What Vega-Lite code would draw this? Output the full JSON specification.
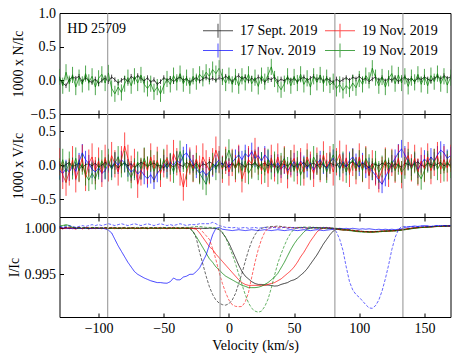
{
"$schema": "https://vega.github.io/schema/vega-lite/v6.json",
"background": "white",
"padding": {"left": 6.5, "top": 5, "right": 5, "bottom": 5},
"config": {
 "font": "Liberation Serif",
 "view": {"stroke": "black", "strokeWidth": 1},
 "axis": {"domain": false, "grid": false, "ticks": true, "tickColor": "black", "tickWidth": 1, "tickSize": -4, "labelFont": "Liberation Serif", "titleFont": "Liberation Serif", "labelFontSize": 14, "titleFontSize": 14, "labelColor": "black", "titleColor": "black", "titleFontWeight": "normal", "labelPadding": 8, "labelOverlap": false, "labelBound": false, "labelFlush": false}
},
"datasets": {
 "meta": [
  {"key":"nS","date":"S17","e":0.035},{"key":"nG","date":"N19b","e":0.12},
  {"key":"vS","date":"S17","e":0.04},{"key":"vB","date":"N17","e":0.13},{"key":"vR","date":"N19a","e":0.2},{"key":"vG","date":"N19b","e":0.16},
  {"key":"iK","date":"S17","kind":"solid"},{"key":"iR","date":"N19a","kind":"solid"},{"key":"iG","date":"N19b","kind":"solid"},{"key":"iB","date":"N17","kind":"solid"},
  {"key":"dK","date":"S17","kind":"dashed"},{"key":"dR","date":"N19a","kind":"dashed"},{"key":"dG","date":"N19b","kind":"dashed"},{"key":"dB","date":"N17","kind":"dashed"}
 ],
 "vlines": [{"v":-93},{"v":-6.8},{"v":81.3},{"v":133.5}],
 "star": [{"name":"HD 25709"}],
 "prof": [
{"v":-130,"nS":0.02,"nG":0.05,"vS":0.02,"vB":-0.08,"vR":0.05,"vG":-0.06,"iK":1.0,"iR":1.00005,"iG":1.0002,"iB":1.0001,"dK":1.0001,"dR":1.0,"dG":1.0002,"dB":1.0002},
{"v":-127.5,"nS":-0.04,"nG":-0.08,"vS":-0.03,"vB":-0.12,"vR":-0.15,"vG":0.08,"iK":0.99997,"iR":0.99993,"iG":1.0003,"iB":1.00005,"dK":1.0,"dR":1.0001,"dG":1.0003,"dB":1.0001},
{"v":-125,"nS":-0.08,"nG":0.12,"vS":0.01,"vB":-0.05,"vR":-0.25,"vG":-0.1,"iK":1.00003,"iR":1.0001,"iG":1.0004,"iB":0.99998,"dK":1.0001,"dR":0.99995,"dG":1.0003,"dB":1.0002},
{"v":-122.5,"nS":0.01,"nG":-0.05,"vS":0.04,"vB":-0.1,"vR":-0.1,"vG":0.04,"iK":0.99998,"iR":0.99996,"iG":1.0003,"iB":1.00003,"dK":1.00005,"dR":1.0001,"dG":1.0002,"dB":1.0003},
{"v":-120,"nS":0.05,"nG":0.08,"vS":-0.02,"vB":-0.02,"vR":0.08,"vG":-0.05,"iK":1.00002,"iR":1.00006,"iG":1.0001,"iB":0.99996,"dK":1.0001,"dR":1.0,"dG":1.0001,"dB":1.0002},
{"v":-117.5,"nS":0.03,"nG":-0.1,"vS":0.0,"vB":-0.09,"vR":-0.2,"vG":0.1,"iK":0.99999,"iR":0.9999,"iG":1.00005,"iB":1.0,"dK":1.0,"dR":1.00008,"dG":1.0001,"dB":1.0001},
{"v":-115,"nS":0.06,"nG":0.04,"vS":0.03,"vB":0.05,"vR":-0.05,"vG":-0.08,"iK":1.00001,"iR":1.0001,"iG":1.0,"iB":1.00004,"dK":1.0001,"dR":1.0001,"dG":1.00005,"dB":1.0002},
{"v":-112.5,"nS":-0.02,"nG":-0.06,"vS":-0.04,"vB":0.18,"vR":0.1,"vG":0.02,"iK":0.99997,"iR":0.99995,"iG":0.99998,"iB":0.99998,"dK":1.00005,"dR":0.99998,"dG":1.0001,"dB":1.0003},
{"v":-110,"nS":0.04,"nG":0.1,"vS":0.01,"vB":0.08,"vR":-0.18,"vG":-0.14,"iK":1.00003,"iR":1.00008,"iG":1.00003,"iB":1.00002,"dK":1.0001,"dR":1.00005,"dG":1.0,"dB":1.0002},
{"v":-107.5,"nS":-0.01,"nG":-0.03,"vS":0.02,"vB":0.02,"vR":0.03,"vG":-0.22,"iK":1.0,"iR":0.99992,"iG":0.99997,"iB":1.0,"dK":1.0,"dR":1.0001,"dG":1.00005,"dB":1.0003},
{"v":-105,"nS":-0.03,"nG":0.06,"vS":-0.01,"vB":-0.06,"vR":0.12,"vG":-0.12,"iK":0.99998,"iR":1.0001,"iG":1.00002,"iB":0.99997,"dK":1.00005,"dR":1.0,"dG":1.0001,"dB":1.0004},
{"v":-102.5,"nS":0.02,"nG":-0.1,"vS":0.03,"vB":-0.1,"vR":-0.08,"vG":-0.2,"iK":1.00002,"iR":0.99996,"iG":1.0,"iB":1.00003,"dK":1.0001,"dR":1.00006,"dG":1.00005,"dB":1.0003},
{"v":-100,"nS":-0.05,"nG":0.03,"vS":-0.03,"vB":-0.04,"vR":0.06,"vG":-0.05,"iK":1.0,"iR":1.00004,"iG":0.99998,"iB":1.0,"dK":1.0,"dR":1.0,"dG":1.0001,"dB":1.0004},
{"v":-97.5,"nS":0.0,"nG":0.09,"vS":0.0,"vB":-0.12,"vR":-0.12,"vG":0.06,"iK":0.99998,"iR":0.99995,"iG":1.00002,"iB":1.00002,"dK":1.00005,"dR":1.00005,"dG":1.0,"dB":1.0003},
{"v":-95,"nS":0.03,"nG":-0.04,"vS":0.04,"vB":-0.08,"vR":0.1,"vG":-0.04,"iK":1.00001,"iR":1.00006,"iG":1.0,"iB":0.99995,"dK":1.0001,"dR":1.0,"dG":1.00005,"dB":1.0004},
{"v":-92.5,"nS":-0.02,"nG":0.11,"vS":0.01,"vB":0.02,"vR":-0.04,"vG":0.08,"iK":0.99999,"iR":0.99998,"iG":0.99997,"iB":0.9998,"dK":1.0,"dR":1.00005,"dG":1.0001,"dB":1.0005},
{"v":-90,"nS":0.05,"nG":-0.12,"vS":-0.02,"vB":-0.05,"vR":0.14,"vG":-0.06,"iK":1.00002,"iR":1.00004,"iG":1.00002,"iB":0.9995,"dK":1.00005,"dR":1.0001,"dG":1.0,"dB":1.0004},
{"v":-87.5,"nS":0.01,"nG":-0.2,"vS":0.02,"vB":0.06,"vR":0.02,"vG":0.03,"iK":1.0,"iR":0.99996,"iG":1.0,"iB":0.9988,"dK":1.0001,"dR":1.0,"dG":1.00005,"dB":1.0003},
{"v":-85,"nS":-0.04,"nG":-0.1,"vS":-0.04,"vB":0.0,"vR":-0.1,"vG":0.12,"iK":0.99997,"iR":1.00005,"iG":0.99998,"iB":0.9981,"dK":1.0,"dR":1.00005,"dG":1.0001,"dB":1.0004},
{"v":-82.5,"nS":0.0,"nG":-0.18,"vS":0.01,"vB":0.08,"vR":0.08,"vG":-0.02,"iK":1.00002,"iR":0.99995,"iG":1.00002,"iB":0.9975,"dK":1.00005,"dR":1.0001,"dG":1.0,"dB":1.0005},
{"v":-80,"nS":0.03,"nG":-0.05,"vS":0.03,"vB":0.03,"vR":0.28,"vG":0.05,"iK":1.0,"iR":1.00003,"iG":1.0,"iB":0.9969,"dK":1.0001,"dR":1.0,"dG":1.00005,"dB":1.0004},
{"v":-77.5,"nS":-0.02,"nG":0.04,"vS":-0.01,"vB":-0.04,"vR":0.1,"vG":-0.08,"iK":0.99998,"iR":0.99997,"iG":0.99997,"iB":0.9963,"dK":1.0,"dR":1.00005,"dG":1.0001,"dB":1.0003},
{"v":-75,"nS":0.06,"nG":-0.08,"vS":0.02,"vB":-0.1,"vR":-0.06,"vG":-0.18,"iK":1.00001,"iR":1.00006,"iG":1.00002,"iB":0.9958,"dK":1.00005,"dR":1.0,"dG":1.0,"dB":1.0004},
{"v":-72.5,"nS":0.02,"nG":0.06,"vS":-0.03,"vB":-0.06,"vR":0.04,"vG":-0.06,"iK":1.0,"iR":0.99995,"iG":1.0,"iB":0.9953,"dK":1.0001,"dR":1.0001,"dG":1.00005,"dB":1.0005},
{"v":-70,"nS":0.07,"nG":-0.04,"vS":0.0,"vB":-0.13,"vR":-0.28,"vG":0.04,"iK":0.99998,"iR":1.00003,"iG":0.99998,"iB":0.995,"dK":1.0,"dR":1.0,"dG":1.0001,"dB":1.0004},
{"v":-67.5,"nS":0.03,"nG":0.08,"vS":0.04,"vB":-0.08,"vR":-0.1,"vG":-0.05,"iK":1.00002,"iR":0.99996,"iG":1.00002,"iB":0.9948,"dK":1.00005,"dR":1.00005,"dG":1.0,"dB":1.0003},
{"v":-65,"nS":-0.01,"nG":-0.06,"vS":0.02,"vB":-0.15,"vR":0.05,"vG":0.1,"iK":1.0,"iR":1.00005,"iG":1.0,"iB":0.9946,"dK":1.0001,"dR":1.0,"dG":1.00005,"dB":1.0004},
{"v":-62.5,"nS":0.04,"nG":-0.12,"vS":-0.02,"vB":-0.2,"vR":-0.08,"vG":-0.03,"iK":0.99998,"iR":0.99995,"iG":0.99998,"iB":0.99445,"dK":1.0,"dR":1.0001,"dG":1.0001,"dB":1.0005},
{"v":-60,"nS":-0.03,"nG":-0.05,"vS":0.01,"vB":-0.14,"vR":0.12,"vG":0.06,"iK":1.00002,"iR":1.00004,"iG":1.00002,"iB":0.9943,"dK":1.00005,"dR":1.0,"dG":1.0,"dB":1.0004},
{"v":-57.5,"nS":0.01,"nG":-0.17,"vS":0.03,"vB":-0.22,"vR":-0.05,"vG":-0.09,"iK":1.0,"iR":0.99997,"iG":1.0,"iB":0.9942,"dK":1.0001,"dR":1.00005,"dG":1.00005,"dB":1.0003},
{"v":-55,"nS":-0.06,"nG":-0.1,"vS":-0.01,"vB":-0.12,"vR":0.07,"vG":0.04,"iK":0.99999,"iR":1.00005,"iG":0.99998,"iB":0.9941,"dK":1.0,"dR":1.0,"dG":1.0001,"dB":1.0004},
{"v":-52.5,"nS":-0.02,"nG":-0.2,"vS":0.0,"vB":-0.06,"vR":-0.12,"vG":-0.06,"iK":1.00002,"iR":0.99996,"iG":1.00002,"iB":0.9941,"dK":1.00005,"dR":1.0001,"dG":1.0,"dB":1.0005},
{"v":-50,"nS":0.04,"nG":-0.08,"vS":-0.04,"vB":0.02,"vR":0.02,"vG":0.08,"iK":1.0,"iR":1.00003,"iG":1.0,"iB":0.99405,"dK":1.0001,"dR":1.0,"dG":1.00005,"dB":1.0004},
{"v":-47.5,"nS":0.0,"nG":0.02,"vS":0.02,"vB":-0.05,"vR":0.1,"vG":-0.04,"iK":0.99998,"iR":0.99995,"iG":1.00003,"iB":0.99403,"dK":1.0,"dR":1.00005,"dG":1.0001,"dB":1.0003},
{"v":-45,"nS":0.03,"nG":-0.06,"vS":0.01,"vB":0.04,"vR":-0.04,"vG":0.02,"iK":1.00002,"iR":1.00005,"iG":1.0,"iB":0.9942,"dK":1.00005,"dR":1.0,"dG":1.0,"dB":1.0004},
{"v":-42.5,"nS":-0.02,"nG":0.07,"vS":-0.03,"vB":0.0,"vR":0.17,"vG":-0.1,"iK":1.0,"iR":0.99997,"iG":0.99998,"iB":0.9946,"dK":1.0001,"dR":1.0001,"dG":1.00005,"dB":1.0003},
{"v":-40,"nS":0.02,"nG":-0.03,"vS":0.03,"vB":0.07,"vR":0.05,"vG":0.05,"iK":0.99999,"iR":1.00004,"iG":1.00002,"iB":0.9944,"dK":1.0,"dR":1.0,"dG":1.0001,"dB":1.0004},
{"v":-37.5,"nS":0.05,"nG":0.1,"vS":0.0,"vB":0.03,"vR":-0.1,"vG":0.2,"iK":1.00001,"iR":0.99996,"iG":1.0,"iB":0.9944,"dK":1.00005,"dR":1.00005,"dG":1.0,"dB":1.0005},
{"v":-35,"nS":0.0,"nG":-0.05,"vS":-0.02,"vB":0.14,"vR":-0.32,"vG":0.06,"iK":1.0,"iR":1.00005,"iG":0.99998,"iB":0.9947,"dK":1.0001,"dR":1.0,"dG":1.00005,"dB":1.0004},
{"v":-32.5,"nS":0.03,"nG":0.04,"vS":0.04,"vB":0.18,"vR":-0.12,"vG":-0.05,"iK":0.99998,"iR":0.99997,"iG":1.00003,"iB":0.9948,"dK":1.0,"dR":1.00005,"dG":1.0001,"dB":1.0003},
{"v":-30,"nS":-0.03,"nG":-0.08,"vS":0.01,"vB":0.1,"vR":0.06,"vG":0.04,"iK":1.00002,"iR":1.00003,"iG":1.0,"iB":0.995,"dK":1.0,"dR":1.0,"dG":1.0001,"dB":1.0004},
{"v":-27.5,"nS":0.01,"nG":0.06,"vS":-0.01,"vB":0.02,"vR":-0.05,"vG":-0.08,"iK":1.0,"iR":0.99998,"iG":0.9996,"iB":0.995,"dK":0.9997,"dR":1.00005,"dG":1.00015,"dB":1.0004},
{"v":-25,"nS":0.04,"nG":-0.02,"vS":0.03,"vB":-0.06,"vR":0.09,"vG":0.02,"iK":0.99999,"iR":0.9999,"iG":0.9991,"iB":0.9953,"dK":0.9989,"dR":1.0,"dG":1.0002,"dB":1.0004},
{"v":-22.5,"nS":-0.01,"nG":0.09,"vS":-0.03,"vB":-0.12,"vR":-0.06,"vG":-0.12,"iK":1.00001,"iR":0.9995,"iG":0.9985,"iB":0.9957,"dK":0.9974,"dR":1.0,"dG":1.0002,"dB":1.0005},
{"v":-20,"nS":0.02,"nG":0.03,"vS":0.02,"vB":-0.08,"vR":0.12,"vG":-0.2,"iK":1.0,"iR":0.999,"iG":0.9979,"iB":0.9964,"dK":0.9961,"dR":0.9996,"dG":1.00015,"dB":1.0005},
{"v":-17.5,"nS":0.05,"nG":0.12,"vS":0.0,"vB":-0.15,"vR":0.02,"vG":-0.28,"iK":0.99998,"iR":0.9985,"iG":0.9973,"iB":0.9971,"dK":0.9948,"dR":0.9992,"dG":1.0001,"dB":1.0005},
{"v":-15,"nS":0.01,"nG":0.06,"vS":0.05,"vB":-0.1,"vR":-0.08,"vG":-0.1,"iK":1.00002,"iR":0.998,"iG":0.9967,"iB":0.9982,"dK":0.99365,"dR":0.9988,"dG":1.0001,"dB":1.0005},
{"v":-12.5,"nS":0.03,"nG":0.16,"vS":0.02,"vB":-0.04,"vR":0.05,"vG":0.02,"iK":1.0,"iR":0.9977,"iG":0.9963,"iB":0.9993,"dK":0.9928,"dR":0.9978,"dG":1.0001,"dB":1.00065},
{"v":-10,"nS":0.0,"nG":0.1,"vS":-0.02,"vB":0.02,"vR":0.22,"vG":-0.06,"iK":0.99998,"iR":0.9972,"iG":0.9958,"iB":1.0,"dK":0.9922,"dR":0.9966,"dG":1.00005,"dB":1.0005},
{"v":-7.5,"nS":0.04,"nG":0.18,"vS":0.01,"vB":0.08,"vR":0.08,"vG":0.05,"iK":0.99985,"iR":0.9968,"iG":0.9955,"iB":1.0001,"dK":0.99187,"dR":0.9952,"dG":0.99995,"dB":1.0003},
{"v":-5,"nS":0.02,"nG":0.05,"vS":0.03,"vB":0.0,"vR":-0.06,"vG":-0.04,"iK":0.9995,"iR":0.9964,"iG":0.9951,"iB":0.9999,"dK":0.9917,"dR":0.994,"dG":0.9996,"dB":1.0002},
{"v":-2.5,"nS":0.06,"nG":-0.04,"vS":-0.04,"vB":0.05,"vR":0.07,"vG":0.08,"iK":0.999,"iR":0.996,"iG":0.9948,"iB":0.99985,"dK":0.99165,"dR":0.993,"dG":0.999,"dB":1.0001},
{"v":0,"nS":0.03,"nG":0.07,"vS":0.0,"vB":-0.03,"vR":-0.1,"vG":0.22,"iK":0.9984,"iR":0.9956,"iG":0.9946,"iB":0.9998,"dK":0.9918,"dR":0.9922,"dG":0.9981,"dB":1.0001},
{"v":2.5,"nS":-0.02,"nG":-0.06,"vS":0.02,"vB":0.04,"vR":0.04,"vG":0.06,"iK":0.9976,"iR":0.9952,"iG":0.9944,"iB":0.99975,"dK":0.9922,"dR":0.9917,"dG":0.9972,"dB":1.00005},
{"v":5,"nS":0.04,"nG":0.05,"vS":-0.01,"vB":0.1,"vR":-0.05,"vG":-0.05,"iK":0.9968,"iR":0.9948,"iG":0.9942,"iB":0.9998,"dK":0.9929,"dR":0.99152,"dG":0.9962,"dB":1.0001},
{"v":7.5,"nS":0.07,"nG":-0.08,"vS":0.03,"vB":0.15,"vR":0.1,"vG":0.04,"iK":0.996,"iR":0.9944,"iG":0.994,"iB":0.99985,"dK":0.994,"dR":0.99148,"dG":0.995,"dB":1.0},
{"v":10,"nS":0.02,"nG":0.06,"vS":0.01,"vB":0.08,"vR":-0.2,"vG":-0.08,"iK":0.9953,"iR":0.9941,"iG":0.9938,"iB":0.9998,"dK":0.9951,"dR":0.9915,"dG":0.9939,"dB":1.00005},
{"v":12.5,"nS":0.05,"nG":-0.03,"vS":-0.03,"vB":0.17,"vR":-0.06,"vG":0.06,"iK":0.9948,"iR":0.9939,"iG":0.9937,"iB":0.99975,"dK":0.9964,"dR":0.992,"dG":0.9928,"dB":1.0001},
{"v":15,"nS":-0.01,"nG":0.09,"vS":0.02,"vB":0.12,"vR":0.08,"vG":-0.12,"iK":0.9945,"iR":0.9938,"iG":0.99355,"iB":0.9998,"dK":0.9976,"dR":0.993,"dG":0.9919,"dB":1.0},
{"v":17.5,"nS":0.03,"nG":-0.05,"vS":0.0,"vB":0.2,"vR":0.02,"vG":-0.04,"iK":0.9942,"iR":0.9938,"iG":0.99355,"iB":0.99985,"dK":0.9986,"dR":0.9947,"dG":0.9913,"dB":1.00005},
{"v":20,"nS":0.0,"nG":0.04,"vS":0.04,"vB":0.1,"vR":0.2,"vG":0.05,"iK":0.994,"iR":0.9938,"iG":0.99355,"iB":0.9998,"dK":0.9993,"dR":0.9963,"dG":0.991,"dB":1.0001},
{"v":22.5,"nS":0.05,"nG":-0.09,"vS":-0.02,"vB":0.14,"vR":0.06,"vG":-0.06,"iK":0.9939,"iR":0.9938,"iG":0.9936,"iB":0.99975,"dK":0.9998,"dR":0.9977,"dG":0.99088,"dB":1.0},
{"v":25,"nS":0.02,"nG":0.07,"vS":0.01,"vB":0.06,"vR":-0.08,"vG":0.03,"iK":0.9939,"iR":0.9938,"iG":0.9937,"iB":0.9998,"dK":1.0,"dR":0.9988,"dG":0.991,"dB":1.00005},
{"v":27.5,"nS":-0.03,"nG":-0.02,"vS":0.03,"vB":0.15,"vR":0.05,"vG":-0.1,"iK":0.99385,"iR":0.9938,"iG":0.9939,"iB":0.99985,"dK":1.0001,"dR":0.9996,"dG":0.9915,"dB":1.0001},
{"v":30,"nS":0.03,"nG":0.08,"vS":-0.01,"vB":0.09,"vR":-0.12,"vG":0.08,"iK":0.99383,"iR":0.9939,"iG":0.9941,"iB":0.9998,"dK":1.00015,"dR":1.0,"dG":0.9923,"dB":1.0},
{"v":32.5,"nS":0.01,"nG":0.2,"vS":0.02,"vB":0.02,"vR":0.1,"vG":-0.05,"iK":0.99378,"iR":0.994,"iG":0.9944,"iB":0.99975,"dK":1.0002,"dR":1.0001,"dG":0.9935,"dB":1.00005},
{"v":35,"nS":0.05,"nG":0.02,"vS":0.0,"vB":-0.04,"vR":-0.04,"vG":0.04,"iK":0.99372,"iR":0.9941,"iG":0.9947,"iB":0.9998,"dK":1.0002,"dR":1.00015,"dG":0.9949,"dB":1.0001},
{"v":37.5,"nS":-0.02,"nG":-0.06,"vS":-0.04,"vB":0.03,"vR":0.12,"vG":-0.12,"iK":0.99375,"iR":0.9943,"iG":0.9951,"iB":0.99985,"dK":1.00025,"dR":1.0001,"dG":0.9962,"dB":1.0},
{"v":40,"nS":0.02,"nG":-0.14,"vS":0.02,"vB":-0.06,"vR":-0.06,"vG":0.02,"iK":0.9939,"iR":0.9945,"iG":0.9957,"iB":0.9998,"dK":1.0002,"dR":1.00015,"dG":0.9972,"dB":1.00005},
{"v":42.5,"nS":-0.01,"nG":-0.05,"vS":0.01,"vB":0.0,"vR":0.08,"vG":0.1,"iK":0.994,"iR":0.9948,"iG":0.9963,"iB":0.99975,"dK":1.00015,"dR":1.0001,"dG":0.9981,"dB":1.0001},
{"v":45,"nS":0.04,"nG":0.06,"vS":-0.01,"vB":-0.08,"vR":-0.14,"vG":-0.04,"iK":0.9941,"iR":0.9951,"iG":0.997,"iB":0.9998,"dK":1.0001,"dR":1.00005,"dG":0.9989,"dB":1.0},
{"v":47.5,"nS":0.0,"nG":-0.08,"vS":0.03,"vB":-0.02,"vR":0.02,"vG":0.06,"iK":0.9943,"iR":0.9954,"iG":0.9977,"iB":0.99985,"dK":1.0001,"dR":1.0001,"dG":0.9995,"dB":1.00005},
{"v":50,"nS":0.03,"nG":0.05,"vS":-0.03,"vB":0.05,"vR":0.1,"vG":-0.08,"iK":0.9944,"iR":0.9958,"iG":0.9983,"iB":0.9998,"dK":1.00005,"dR":1.0,"dG":0.9999,"dB":1.0001},
{"v":52.5,"nS":-0.02,"nG":-0.04,"vS":0.02,"vB":-0.03,"vR":-0.08,"vG":0.05,"iK":0.9946,"iR":0.9963,"iG":0.9988,"iB":0.99975,"dK":1.0001,"dR":1.00005,"dG":1.0001,"dB":1.0},
{"v":55,"nS":0.02,"nG":0.09,"vS":0.0,"vB":0.06,"vR":0.05,"vG":-0.14,"iK":0.9949,"iR":0.9969,"iG":0.9992,"iB":0.9998,"dK":1.00005,"dR":1.0001,"dG":1.0001,"dB":1.00005},
{"v":57.5,"nS":0.05,"nG":-0.06,"vS":0.04,"vB":0.01,"vR":-0.1,"vG":-0.04,"iK":0.9952,"iR":0.9974,"iG":0.9996,"iB":0.99985,"dK":1.0001,"dR":1.0,"dG":1.00015,"dB":1.0001},
{"v":60,"nS":0.0,"nG":0.03,"vS":-0.02,"vB":-0.05,"vR":0.12,"vG":0.07,"iK":0.9956,"iR":0.998,"iG":0.9999,"iB":0.9998,"dK":1.0,"dR":1.00005,"dG":1.0001,"dB":1.0},
{"v":62.5,"nS":0.03,"nG":-0.1,"vS":0.01,"vB":0.03,"vR":0.0,"vG":-0.06,"iK":0.9961,"iR":0.9986,"iG":1.0,"iB":0.99975,"dK":1.00005,"dR":1.0001,"dG":1.00015,"dB":1.00005},
{"v":65,"nS":0.06,"nG":0.06,"vS":0.03,"vB":-0.07,"vR":-0.12,"vG":0.12,"iK":0.9966,"iR":0.9991,"iG":1.00005,"iB":0.9998,"dK":1.0001,"dR":1.0,"dG":1.0001,"dB":1.0001},
{"v":67.5,"nS":0.01,"nG":-0.03,"vS":-0.01,"vB":0.02,"vR":0.06,"vG":0.02,"iK":0.9971,"iR":0.9996,"iG":1.0001,"iB":0.99985,"dK":1.00005,"dR":1.00005,"dG":1.0,"dB":1.0},
{"v":70,"nS":0.04,"nG":0.08,"vS":0.02,"vB":0.08,"vR":-0.05,"vG":-0.06,"iK":0.9977,"iR":0.9999,"iG":1.00005,"iB":0.9998,"dK":1.0,"dR":1.0001,"dG":1.00005,"dB":1.00005},
{"v":72.5,"nS":-0.01,"nG":-0.05,"vS":0.0,"vB":0.0,"vR":0.15,"vG":0.05,"iK":0.9983,"iR":1.0,"iG":1.0,"iB":0.99975,"dK":1.00005,"dR":1.00005,"dG":1.0001,"dB":1.0001},
{"v":75,"nS":0.03,"nG":0.04,"vS":-0.03,"vB":-0.05,"vR":-0.02,"vG":-0.1,"iK":0.9988,"iR":1.00005,"iG":0.99995,"iB":0.9998,"dK":1.0001,"dR":1.0,"dG":1.00005,"dB":1.0},
{"v":77.5,"nS":0.0,"nG":-0.07,"vS":0.03,"vB":0.04,"vR":0.08,"vG":0.03,"iK":0.9993,"iR":1.0,"iG":1.0,"iB":0.99985,"dK":1.00005,"dR":1.00005,"dG":1.0,"dB":1.00005},
{"v":80,"nS":-0.03,"nG":-0.02,"vS":0.01,"vB":0.1,"vR":-0.1,"vG":0.15,"iK":0.9997,"iR":0.99995,"iG":0.99995,"iB":0.9999,"dK":1.0,"dR":1.0,"dG":1.00005,"dB":1.0},
{"v":82.5,"nS":0.02,"nG":-0.12,"vS":-0.01,"vB":0.03,"vR":0.05,"vG":0.05,"iK":0.9999,"iR":0.9999,"iG":0.9999,"iB":0.99995,"dK":0.99995,"dR":0.99995,"dG":1.0,"dB":0.9996},
{"v":85,"nS":-0.02,"nG":-0.06,"vS":0.04,"vB":-0.04,"vR":0.16,"vG":-0.06,"iK":0.99995,"iR":0.99985,"iG":0.99985,"iB":1.0,"dK":0.9999,"dR":0.9999,"dG":0.99995,"dB":0.9988},
{"v":87.5,"nS":0.01,"nG":-0.15,"vS":0.0,"vB":0.05,"vR":-0.04,"vG":0.04,"iK":0.9999,"iR":0.9998,"iG":0.9998,"iB":0.99995,"dK":0.99985,"dR":0.99985,"dG":0.9999,"dB":0.9976},
{"v":90,"nS":0.04,"nG":-0.08,"vS":-0.02,"vB":-0.02,"vR":0.1,"vG":-0.1,"iK":0.99985,"iR":0.99985,"iG":0.9998,"iB":1.0,"dK":0.9998,"dR":0.9998,"dG":0.99985,"dB":0.9958},
{"v":92.5,"nS":0.0,"nG":-0.13,"vS":0.02,"vB":0.07,"vR":-0.12,"vG":0.02,"iK":0.9998,"iR":0.9998,"iG":0.99975,"iB":0.99995,"dK":0.99985,"dR":0.9998,"dG":0.9998,"dB":0.9942},
{"v":95,"nS":0.05,"nG":-0.04,"vS":0.05,"vB":0.12,"vR":0.04,"vG":0.08,"iK":0.99975,"iR":0.99975,"iG":0.9997,"iB":1.0,"dK":0.9998,"dR":0.99975,"dG":0.99975,"dB":0.9933},
{"v":97.5,"nS":0.02,"nG":-0.11,"vS":0.01,"vB":0.04,"vR":-0.08,"vG":-0.05,"iK":0.9997,"iR":0.9997,"iG":0.99965,"iB":0.99995,"dK":0.99975,"dR":0.9997,"dG":0.9997,"dB":0.9928},
{"v":100,"nS":0.06,"nG":0.02,"vS":-0.02,"vB":-0.03,"vR":0.12,"vG":0.06,"iK":0.99968,"iR":0.99968,"iG":0.99962,"iB":0.9999,"dK":0.9997,"dR":0.99968,"dG":0.99965,"dB":0.9925},
{"v":102.5,"nS":0.01,"nG":-0.06,"vS":0.03,"vB":0.05,"vR":-0.05,"vG":-0.08,"iK":0.99965,"iR":0.99965,"iG":0.9996,"iB":0.99995,"dK":0.99968,"dR":0.99965,"dG":0.9996,"dB":0.9921},
{"v":105,"nS":0.03,"nG":0.07,"vS":0.0,"vB":-0.06,"vR":0.08,"vG":0.1,"iK":0.99965,"iR":0.99962,"iG":0.9996,"iB":0.9999,"dK":0.99965,"dR":0.99962,"dG":0.9996,"dB":0.9917},
{"v":107.5,"nS":-0.02,"nG":0.0,"vS":-0.04,"vB":-0.02,"vR":-0.15,"vG":0.0,"iK":0.99963,"iR":0.9996,"iG":0.99958,"iB":0.99995,"dK":0.99963,"dR":0.9996,"dG":0.99958,"dB":0.99135},
{"v":110,"nS":0.02,"nG":0.18,"vS":0.02,"vB":-0.09,"vR":0.02,"vG":-0.06,"iK":0.99963,"iR":0.9996,"iG":0.99958,"iB":0.9999,"dK":0.99963,"dR":0.9996,"dG":0.99958,"dB":0.9913},
{"v":112.5,"nS":0.05,"nG":0.04,"vS":0.01,"vB":-0.15,"vR":-0.1,"vG":0.05,"iK":0.99965,"iR":0.99962,"iG":0.9996,"iB":0.99985,"dK":0.99965,"dR":0.99962,"dG":0.9996,"dB":0.9916},
{"v":115,"nS":0.0,"nG":-0.08,"vS":-0.01,"vB":-0.22,"vR":-0.2,"vG":-0.1,"iK":0.99967,"iR":0.99965,"iG":0.99962,"iB":0.9999,"dK":0.99967,"dR":0.99965,"dG":0.99962,"dB":0.9922},
{"v":117.5,"nS":0.04,"nG":0.05,"vS":0.03,"vB":-0.28,"vR":-0.08,"vG":-0.02,"iK":0.9997,"iR":0.99968,"iG":0.99965,"iB":0.99985,"dK":0.9997,"dR":0.99968,"dG":0.99965,"dB":0.9932},
{"v":120,"nS":-0.01,"nG":-0.1,"vS":0.0,"vB":-0.18,"vR":0.06,"vG":0.08,"iK":0.9997,"iR":0.9997,"iG":0.99968,"iB":0.9999,"dK":0.9997,"dR":0.9997,"dG":0.99968,"dB":0.9945},
{"v":122.5,"nS":0.03,"nG":0.03,"vS":0.04,"vB":-0.08,"vR":-0.12,"vG":-0.05,"iK":0.99972,"iR":0.9997,"iG":0.9997,"iB":0.99985,"dK":0.99972,"dR":0.9997,"dG":0.9997,"dB":0.996},
{"v":125,"nS":0.0,"nG":0.1,"vS":-0.02,"vB":0.02,"vR":0.04,"vG":0.06,"iK":0.99975,"iR":0.99972,"iG":0.99972,"iB":0.9999,"dK":0.99975,"dR":0.99972,"dG":0.99972,"dB":0.9977},
{"v":127.5,"nS":0.04,"nG":-0.05,"vS":0.02,"vB":0.1,"vR":-0.06,"vG":-0.08,"iK":0.99975,"iR":0.99975,"iG":0.99972,"iB":0.99985,"dK":0.99975,"dR":0.99975,"dG":0.99972,"dB":0.999},
{"v":130,"nS":-0.02,"nG":0.08,"vS":0.0,"vB":0.18,"vR":0.1,"vG":0.02,"iK":0.9998,"iR":0.99978,"iG":0.99975,"iB":0.9999,"dK":0.9998,"dR":0.99978,"dG":0.99975,"dB":0.99985},
{"v":132.5,"nS":0.02,"nG":-0.04,"vS":-0.03,"vB":0.24,"vR":-0.14,"vG":-0.1,"iK":0.99985,"iR":0.99982,"iG":0.9998,"iB":0.99995,"dK":0.99985,"dR":0.99982,"dG":0.9998,"dB":1.0002},
{"v":135,"nS":0.05,"nG":0.06,"vS":0.03,"vB":0.15,"vR":0.05,"vG":-0.04,"iK":0.9999,"iR":0.99988,"iG":0.99985,"iB":1.0001,"dK":0.9999,"dR":0.99988,"dG":0.99985,"dB":1.0002},
{"v":137.5,"nS":0.0,"nG":-0.09,"vS":0.01,"vB":0.06,"vR":0.14,"vG":0.08,"iK":0.99995,"iR":0.99995,"iG":0.9999,"iB":1.00015,"dK":0.99995,"dR":0.99995,"dG":0.9999,"dB":1.00015},
{"v":140,"nS":0.03,"nG":0.04,"vS":-0.01,"vB":-0.03,"vR":-0.04,"vG":-0.06,"iK":1.0,"iR":1.0,"iG":0.99995,"iB":1.0002,"dK":1.0,"dR":1.0,"dG":0.99995,"dB":1.0002},
{"v":142.5,"nS":-0.02,"nG":-0.03,"vS":0.02,"vB":0.05,"vR":0.1,"vG":0.04,"iK":1.00005,"iR":1.00003,"iG":1.0,"iB":1.00025,"dK":1.00005,"dR":1.00003,"dG":1.0,"dB":1.00015},
{"v":145,"nS":0.04,"nG":0.09,"vS":0.05,"vB":-0.06,"vR":-0.1,"vG":-0.12,"iK":1.00008,"iR":1.00008,"iG":1.00005,"iB":1.0002,"dK":1.00008,"dR":1.00008,"dG":1.00005,"dB":1.0002},
{"v":147.5,"nS":0.01,"nG":-0.06,"vS":0.0,"vB":0.02,"vR":0.06,"vG":-0.2,"iK":1.0001,"iR":1.0001,"iG":1.00008,"iB":1.00025,"dK":1.0001,"dR":1.0001,"dG":1.00008,"dB":1.00025},
{"v":150,"nS":0.05,"nG":0.05,"vS":-0.02,"vB":0.09,"vR":-0.05,"vG":-0.08,"iK":1.00012,"iR":1.00012,"iG":1.0001,"iB":1.0003,"dK":1.00012,"dR":1.00012,"dG":1.0001,"dB":1.0002},
{"v":152.5,"nS":0.02,"nG":-0.08,"vS":0.03,"vB":0.04,"vR":0.12,"vG":0.05,"iK":1.00015,"iR":1.00015,"iG":1.00012,"iB":1.00025,"dK":1.00015,"dR":1.00015,"dG":1.00012,"dB":1.00025},
{"v":155,"nS":-0.01,"nG":0.07,"vS":0.01,"vB":0.12,"vR":-0.08,"vG":-0.04,"iK":1.00018,"iR":1.00015,"iG":1.00015,"iB":1.0002,"dK":1.00018,"dR":1.00015,"dG":1.00015,"dB":1.0002},
{"v":157.5,"nS":0.03,"nG":-0.02,"vS":-0.01,"vB":0.06,"vR":0.04,"vG":0.08,"iK":1.0002,"iR":1.00018,"iG":1.00018,"iB":1.00025,"dK":1.0002,"dR":1.00018,"dG":1.00018,"dB":1.00025},
{"v":160,"nS":0.06,"nG":0.1,"vS":0.02,"vB":0.15,"vR":0.14,"vG":-0.06,"iK":1.0002,"iR":1.0002,"iG":1.0002,"iB":1.0003,"dK":1.0002,"dR":1.0002,"dG":1.0002,"dB":1.0003},
{"v":162.5,"nS":0.02,"nG":-0.05,"vS":0.04,"vB":0.22,"vR":-0.06,"vG":0.03,"iK":1.00022,"iR":1.0002,"iG":1.0002,"iB":1.00025,"dK":1.00022,"dR":1.0002,"dG":1.0002,"dB":1.00025},
{"v":165,"nS":0.07,"nG":0.06,"vS":-0.01,"vB":0.18,"vR":0.08,"vG":-0.08,"iK":1.00025,"iR":1.00022,"iG":1.00022,"iB":1.0003,"dK":1.00025,"dR":1.00022,"dG":1.00022,"dB":1.0003},
{"v":167.5,"nS":0.03,"nG":-0.07,"vS":0.02,"vB":0.1,"vR":-0.04,"vG":0.05,"iK":1.00025,"iR":1.00025,"iG":1.00025,"iB":1.00025,"dK":1.00025,"dR":1.00025,"dG":1.00025,"dB":1.00025},
{"v":170,"nS":0.05,"nG":0.04,"vS":0.0,"vB":0.14,"vR":0.1,"vG":-0.03,"iK":1.00025,"iR":1.00025,"iG":1.00025,"iB":1.0003,"dK":1.00025,"dR":1.00025,"dG":1.00025,"dB":1.0003}
 ]
},
"spacing": 0,
"bounds": "flush",
"resolve": {"scale": {"y": "independent", "color": "independent", "strokeDash": "independent", "opacity": "independent"}},
"vconcat": [
 {
  "width": 391, "height": 101,
  "resolve": {"axis": {"x": "independent", "y": "independent"}},
  "layer": [
   {
    "data": {"name": "prof"},
    "transform": [{"fold": ["nS", "nG"], "as": ["key", "val"]}, {"lookup": "key", "from": {"data": {"name": "meta"}, "key": "key", "fields": ["date", "e"]}}],
    "mark": {"type": "errorbar", "thickness": 1, "opacity": 0.7, "clip": true},
    "encoding": {
     "x": {"field": "v", "type": "quantitative", "scale": {"domain": [-130, 170], "nice": false, "zero": false}, "axis": {"labels": false, "title": null, "values": [-100, -50, 0, 50, 100, 150]}},
     "y": {"field": "val", "type": "quantitative", "scale": {"domain": [-0.5, 1.0], "nice": false, "zero": false}, "axis": null},
     "yError": {"field": "e"},
     "color": {"field": "date", "type": "nominal", "scale": {"domain": ["S17", "N17", "N19a", "N19b"], "range": ["#000000", "#0000ff", "#ff0000", "#008000"]},
      "legend": {"orient": "none", "legendX": 148, "legendY": 7, "columns": 2, "title": null, "padding": 0, "symbolType": "M-1.5,0H1.5M0,-0.7V0.7", "symbolSize": 400, "symbolStrokeWidth": 1, "symbolOpacity": 0.7, "labelFont": "Liberation Serif", "labelFontSize": 14, "labelColor": "black", "labelOffset": 11.5, "columnPadding": 5, "rowPadding": -2.8,
       "labelExpr": "datum.label == 'S17' ? '17 Sept. 2019' : datum.label == 'N17' ? '17 Nov. 2019' : '19 Nov. 2019'"}}
    }
   },
   {
    "data": {"name": "prof"},
    "transform": [{"fold": ["nS", "nG"], "as": ["key", "val"]}, {"lookup": "key", "from": {"data": {"name": "meta"}, "key": "key", "fields": ["date", "e"]}}],
    "mark": {"type": "line", "strokeWidth": 1, "opacity": 0.7, "clip": true},
    "encoding": {
     "x": {"field": "v", "type": "quantitative", "axis": null},
     "y": {"field": "val", "type": "quantitative", "axis": {"title": "1000 x N/Ic", "values": [-0.5, 0, 0.5, 1.0], "format": ".1f", "titlePadding": 5}},
     "color": {"field": "date", "type": "nominal"}
    }
   },
   {
    "data": {"name": "vlines"},
    "mark": {"type": "rule", "color": "#909090", "strokeWidth": 1},
    "encoding": {"x": {"field": "v", "type": "quantitative", "axis": null}}
   },
   {
    "data": {"name": "star"},
    "mark": {"type": "text", "align": "left", "baseline": "alphabetic", "font": "Liberation Serif", "fontSize": 14, "color": "black"},
    "encoding": {"text": {"field": "name"}, "x": {"datum": -124, "axis": null}, "y": {"datum": 0.71, "axis": null}}
   }
  ]
 },
 {
  "width": 391, "height": 103,
  "resolve": {"axis": {"x": "independent", "y": "independent"}},
  "layer": [
   {
    "data": {"name": "prof"},
    "transform": [{"fold": ["vS", "vB", "vR", "vG"], "as": ["key", "val"]}, {"lookup": "key", "from": {"data": {"name": "meta"}, "key": "key", "fields": ["date", "e"]}}],
    "mark": {"type": "errorbar", "thickness": 1, "opacity": 0.7, "clip": true},
    "encoding": {
     "x": {"field": "v", "type": "quantitative", "scale": {"domain": [-130, 170], "nice": false, "zero": false}, "axis": {"labels": false, "title": null, "values": [-100, -50, 0, 50, 100, 150]}},
     "y": {"field": "val", "type": "quantitative", "scale": {"domain": [-0.76, 0.75], "nice": false, "zero": false}, "axis": null},
     "yError": {"field": "e"},
     "color": {"field": "date", "type": "nominal", "scale": {"domain": ["S17", "N17", "N19a", "N19b"], "range": ["#000000", "#0000ff", "#ff0000", "#008000"]}, "legend": null}
    }
   },
   {
    "data": {"name": "prof"},
    "transform": [{"fold": ["vS", "vB", "vR", "vG"], "as": ["key", "val"]}, {"lookup": "key", "from": {"data": {"name": "meta"}, "key": "key", "fields": ["date", "e"]}}],
    "mark": {"type": "line", "strokeWidth": 1, "opacity": 0.7, "clip": true},
    "encoding": {
     "x": {"field": "v", "type": "quantitative", "axis": null},
     "y": {"field": "val", "type": "quantitative", "axis": {"title": "1000 x V/Ic", "values": [-0.5, 0, 0.5], "format": ".1f", "titlePadding": 5}},
     "color": {"field": "date", "type": "nominal", "legend": null}
    }
   },
   {
    "data": {"name": "vlines"},
    "mark": {"type": "rule", "color": "#909090", "strokeWidth": 1},
    "encoding": {"x": {"field": "v", "type": "quantitative", "axis": {"orient": "top", "labels": false, "title": null, "values": [-100, -50, 0, 50, 100, 150]}}}
   }
  ]
 },
 {
  "width": 391, "height": 100,
  "resolve": {"axis": {"x": "independent"}},
  "layer": [
   {
    "data": {"name": "prof"},
    "transform": [{"fold": ["iK", "iR", "iG", "iB", "dK", "dR", "dG", "dB"], "as": ["key", "val"]}, {"lookup": "key", "from": {"data": {"name": "meta"}, "key": "key", "fields": ["date", "kind"]}}],
    "mark": {"type": "line", "strokeWidth": 1, "clip": true},
    "encoding": {
     "x": {"field": "v", "type": "quantitative", "scale": {"domain": [-130, 170], "nice": false, "zero": false}, "axis": {"title": "Velocity (km/s)", "values": [-100, -50, 0, 50, 100, 150], "titlePadding": 3}},
     "y": {"field": "val", "type": "quantitative", "scale": {"domain": [0.99036, 1.00123], "nice": false, "zero": false}, "axis": {"title": "I/Ic", "values": [0.995, 1.0], "format": ".3f", "titlePadding": 3}},
     "color": {"field": "date", "type": "nominal", "scale": {"domain": ["S17", "N17", "N19a", "N19b"], "range": ["#000000", "#0000ff", "#ff0000", "#008000"]}, "legend": null},
     "strokeDash": {"field": "kind", "type": "nominal", "scale": {"domain": ["solid", "dashed"], "range": [[1, 0], [3, 1.6]]}, "legend": null},
     "opacity": {"field": "kind", "type": "nominal", "scale": {"domain": ["solid", "dashed"], "range": [0.75, 0.6]}, "legend": null},
     "detail": {"field": "key"}
    }
   },
   {
    "data": {"name": "vlines"},
    "mark": {"type": "rule", "color": "#909090", "strokeWidth": 1},
    "encoding": {"x": {"field": "v", "type": "quantitative", "axis": {"orient": "top", "labels": false, "title": null, "values": [-100, -50, 0, 50, 100, 150]}}}
   }
  ]
 }
]
}
